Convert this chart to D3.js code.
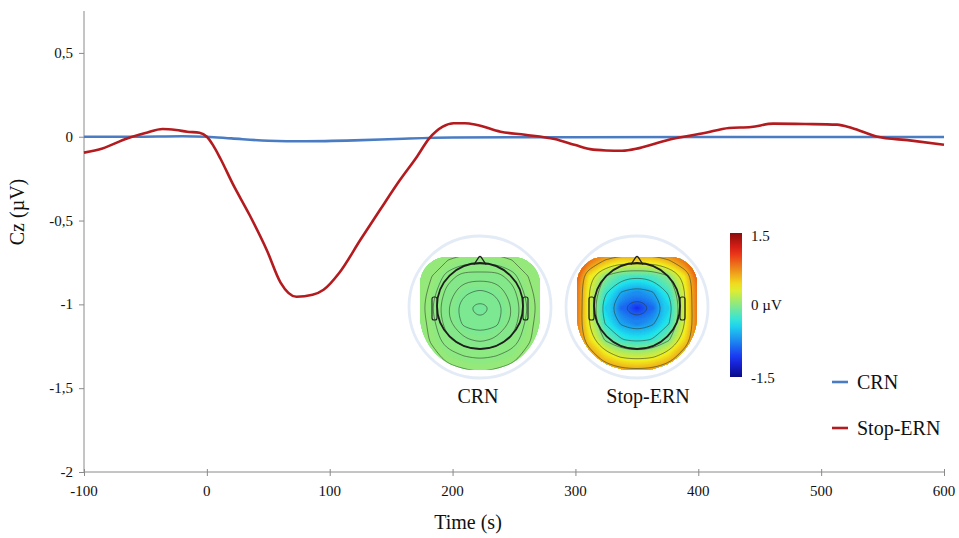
<!DOCTYPE html>
<html>
<head>
<meta charset="utf-8">
<script src="https://cdn.jsdelivr.net/npm/d3@7"></script>
<style>
  html, body { margin: 0; padding: 0; background: #fff; }
  svg { display: block; }
  svg text { font-family: "Liberation Serif", "Times New Roman", serif; fill: #111; }
</style>
</head>
<body>
<svg id="chart" width="959" height="538"></svg>
<script>
// ---------------- DATA ----------------
const crnTime = [-100, -60, -20, 0, 20, 50, 80, 120, 160, 200, 250, 300, 400, 500, 600];
const crnValues = [0.0, 0.0, 0.003, 0.0, -0.01, -0.024, -0.027, -0.022, -0.012, -0.005, -0.003, -0.003, -0.002, -0.002, -0.002];

const ernTime = [-100, -85, -65, -50, -36, -25, -16, -6, 0, 5, 11, 21, 35, 49, 60, 73, 86, 95, 108, 125, 141, 157, 171, 181, 192, 201, 210, 219, 239, 259, 283, 300, 312, 325, 338, 352, 376, 405, 425, 443, 461, 487, 513, 525, 545, 572, 600];
const ernValues = [-0.095, -0.07, -0.01, 0.022, 0.046, 0.04, 0.03, 0.024, 0.0, -0.05, -0.13, -0.28, -0.47, -0.68, -0.87, -0.955, -0.943, -0.913, -0.81, -0.615, -0.436, -0.26, -0.119, -0.01, 0.06, 0.08, 0.08, 0.072, 0.03, 0.012, -0.014, -0.05, -0.074, -0.082, -0.084, -0.068, -0.018, 0.022, 0.052, 0.058, 0.078, 0.076, 0.072, 0.052, 0.002, -0.022, -0.048];

const xTicks = [-100, 0, 100, 200, 300, 400, 500, 600];
const xTickLabels = ["-100", "0", "100", "200", "300", "400", "500", "600"];
const yTicks = [0.5, 0, -0.5, -1, -1.5, -2];
const yTickLabels = ["0,5", "0", "-0,5", "-1", "-1,5", "-2"];

const seriesNames = ["CRN", "Stop-ERN"];
const seriesColors = ["#4a7cc4", "#b31b1f"];

// Topographic maps: 9x9 grids of scalp values (µV), rows front -> back
const crnGrid = [
  [0.07, 0.07, 0.06, 0.06, 0.06, 0.06, 0.06, 0.07, 0.07],
  [0.07, 0.06, 0.04, 0.03, 0.03, 0.03, 0.04, 0.06, 0.07],
  [0.06, 0.04, 0.01, -0.01, -0.01, -0.01, 0.01, 0.04, 0.06],
  [0.06, 0.03, -0.01, -0.035, -0.045, -0.035, -0.01, 0.03, 0.06],
  [0.06, 0.02, -0.02, -0.055, -0.07, -0.055, -0.02, 0.02, 0.06],
  [0.06, 0.03, -0.015, -0.045, -0.055, -0.045, -0.015, 0.03, 0.06],
  [0.06, 0.035, 0.005, -0.015, -0.025, -0.015, 0.005, 0.035, 0.06],
  [0.065, 0.05, 0.03, 0.02, 0.015, 0.02, 0.03, 0.05, 0.065],
  [0.07, 0.06, 0.05, 0.045, 0.04, 0.045, 0.05, 0.06, 0.07]
];
const ernGrid = [
  [1.1, 1.05, 1.0, 1.0, 1.0, 1.0, 1.0, 1.05, 1.1],
  [1.05, 0.85, 0.6, 0.45, 0.5, 0.45, 0.6, 0.85, 1.05],
  [1.0, 0.4, 0.0, -0.2, -0.25, -0.2, 0.0, 0.4, 1.0],
  [1.0, 0.3, -0.25, -0.6, -0.75, -0.6, -0.25, 0.3, 1.0],
  [1.0, 0.3, -0.45, -0.88, -1.12, -0.88, -0.45, 0.3, 1.0],
  [0.95, 0.3, -0.3, -0.62, -0.78, -0.62, -0.3, 0.3, 0.95],
  [0.95, 0.45, -0.02, -0.28, -0.35, -0.28, -0.02, 0.45, 0.95],
  [0.95, 0.75, 0.45, 0.25, 0.2, 0.25, 0.45, 0.75, 0.95],
  [1.0, 0.9, 0.8, 0.72, 0.7, 0.72, 0.8, 0.9, 1.0]
];
const mapLabels = ["CRN", "Stop-ERN"];
const crnLines = [-0.06, -0.04, -0.02, 0.0, 0.02, 0.04];
const ernLines = [-0.9, -0.6, -0.3, 0.0, 0.3, 0.6];
const colorbarTicks = [1.5, 0, -1.5];
const colorbarLabels = ["1.5", "0 \u00b5V", "-1.5"];

// ---------------- CHART ----------------
const svg = d3.select("#chart");
const M = { left: 84, right: 944, top: 11, bottom: 472 };

const x = d3.scaleLinear().domain([-100, 600]).range([M.left, M.right]);
const y = d3.scaleLinear().domain([-2, 0.75]).range([M.bottom, M.top]);

const axisColor = "#8a8a8a";

// Y axis (ticks via d3 axis, labels as plain text)
const gy = svg.append("g").attr("transform", `translate(${M.left},0)`)
  .call(d3.axisLeft(y).tickValues(yTicks).tickSize(5).tickFormat(""));
gy.select(".domain").attr("stroke", axisColor).attr("d", `M0,${M.top}V${M.bottom}`);
gy.selectAll(".tick line").attr("stroke", axisColor);
svg.append("g").selectAll("text").data(yTicks).join("text")
  .attr("x", M.left - 11).attr("y", d => y(d) + 5)
  .attr("text-anchor", "end").attr("font-size", 15)
  .text((d, i) => yTickLabels[i]);

// X axis
const gx = svg.append("g").attr("transform", `translate(0,${M.bottom})`)
  .call(d3.axisBottom(x).tickValues(xTicks).tickSize(4).tickFormat(""));
gx.select(".domain").attr("stroke", axisColor).attr("d", `M${M.left},0H${M.right}`);
gx.selectAll(".tick line").attr("stroke", axisColor).attr("y1", -3).attr("y2", 4);
svg.append("g").selectAll("text").data(xTicks).join("text")
  .attr("x", d => x(d)).attr("y", M.bottom + 24)
  .attr("text-anchor", "middle").attr("font-size", 15)
  .text((d, i) => xTickLabels[i]);

// Axis titles
svg.append("text").attr("x", 468).attr("y", 529).attr("text-anchor", "middle")
  .attr("font-size", 20).text("Time (s)");
svg.append("text").attr("transform", "translate(24,212) rotate(-90)").attr("text-anchor", "middle")
  .attr("font-size", 20).text("Cz (\u00b5V)");

// Lines
const line = d3.line().x(d => x(d[0])).y(d => y(d[1])).curve(d3.curveMonotoneX);
const crnData = crnTime.map((t, i) => [t, crnValues[i]]);
const ernData = ernTime.map((t, i) => [t, ernValues[i]]);
svg.append("path").datum(crnData).attr("d", line).attr("fill", "none")
  .attr("stroke", seriesColors[0]).attr("stroke-width", 2.6);
svg.append("path").datum(ernData).attr("d", line).attr("fill", "none")
  .attr("stroke", seriesColors[1]).attr("stroke-width", 2.6);

// Legend
const legendY = [382, 428];
seriesNames.forEach((name, i) => {
  svg.append("line").attr("x1", 832).attr("x2", 848).attr("y1", legendY[i]).attr("y2", legendY[i])
    .attr("stroke", seriesColors[i]).attr("stroke-width", 2.6);
  svg.append("text").attr("x", 857).attr("y", legendY[i] + 7).attr("font-size", 20).text(name);
});

// ---------------- TOPOMAPS ----------------
const jetStops = ["#0a0a86", "#1a2cf2", "#1fe3ee", "#f2ee1e", "#ea2418", "#8a0c0c"];
const jet = d3.scaleLinear()
  .domain([-1.5, -1.125, -0.375, 0.375, 1.125, 1.5])
  .range(jetStops).interpolate(d3.interpolateRgb).clamp(true);

const defs = svg.append("defs");
const mapCenters = [480, 637];
const grids = [crnGrid, ernGrid];
const lineSets = [crnLines, ernLines];
const cy = 308;

const ringLine = d3.line().curve(d3.curveBasisClosed);

function ringsPath(geom, sx, sy) {
  let p = "";
  geom.coordinates.forEach(poly => {
    poly.forEach(ring => {
      const pts = ring.slice(0, -1).map(c => [sx(c[0]), sy(c[1])]);
      if (pts.length > 2) p += ringLine(pts);
    });
  });
  return p;
}

// scalp region outline (rounded box: moderate top radius, large bottom radius)
function scalpShape(cx) {
  const l = cx - 60, r = cx + 60, t = 257, b = 370, rt = 27, rb = 55;
  const p = d3.path();
  p.moveTo(l + rt, t);
  p.lineTo(r - rt, t);
  p.arcTo(r, t, r, t + rt, rt);
  p.lineTo(r, b - rb);
  p.arcTo(r, b, r - rb, b, rb);
  p.lineTo(l + rb, b);
  p.arcTo(l, b, l, b - rb, rb);
  p.lineTo(l, t + rt);
  p.arcTo(l, t, l + rt, t, rt);
  p.closePath();
  return p.toString();
}

grids.forEach((grid, k) => {
  const cx = mapCenters[k];
  const n = grid.length;
  const values = grid.flat();
  const sx = d3.scaleLinear().domain([0, n]).range([cx - 72, cx + 72]);
  const sy = d3.scaleLinear().domain([0, n]).range([cy - 72, cy + 72]);

  // pale outer ring
  svg.append("circle").attr("cx", cx).attr("cy", 307).attr("r", 71)
    .attr("fill", "none").attr("stroke", "#e3ebf6").attr("stroke-width", 2.8);

  const cp = "clipS" + k;
  defs.append("clipPath").attr("id", cp).append("path").attr("d", scalpShape(cx));

  const g = svg.append("g").attr("clip-path", `url(#${cp})`);

  const minV = d3.min(values);
  const fillThresholds = d3.range(-1.5, 1.5, 0.03).filter(t => t > minV);
  g.append("rect").attr("x", cx - 72).attr("y", cy - 72).attr("width", 144).attr("height", 144)
    .attr("fill", jet(minV));
  const contours = d3.contours().size([n, n]).thresholds(fillThresholds)(values);
  g.selectAll("path.band").data(contours).join("path")
    .attr("class", "band")
    .attr("d", d => ringsPath(d, sx, sy))
    .attr("fill", d => jet(d.value + 0.015))
    .attr("fill-rule", "evenodd")
    .attr("stroke", d => jet(d.value + 0.015)).attr("stroke-width", 0.6);

  const lineContours = d3.contours().size([n, n]).thresholds(lineSets[k])(values);
  g.selectAll("path.iso").data(lineContours).join("path")
    .attr("class", "iso")
    .attr("d", d => ringsPath(d, sx, sy))
    .attr("fill", "none").attr("fill-rule", "evenodd")
    .attr("stroke", "#2b3a2b").attr("stroke-opacity", 0.7).attr("stroke-width", 0.8);

  // head outline
  const headR = 43, headY = 306;
  svg.append("path")
    .attr("d", `M${cx - 6},${headY - headR + 1.5} L${cx - 1},${headY - headR - 6} Q${cx},${headY - headR - 7} ${cx + 1},${headY - headR - 6} L${cx + 6},${headY - headR + 1.5}`)
    .attr("fill", "none").attr("stroke", "#1e1e1e").attr("stroke-width", 1.3);
  [-1, 1].forEach(s => {
    svg.append("rect").attr("x", s < 0 ? cx - headR - 5 : cx + headR)
      .attr("y", 297).attr("width", 5).attr("height", 23).attr("rx", 2)
      .attr("fill", "none").attr("stroke", "#1e1e1e").attr("stroke-width", 1.1);
  });
  svg.append("circle").attr("cx", cx).attr("cy", headY).attr("r", headR)
    .attr("fill", "none").attr("stroke", "#1e1e1e").attr("stroke-width", 1.8);

  svg.append("text").attr("x", k === 0 ? 478 : 648).attr("y", 403).attr("text-anchor", "middle")
    .attr("font-size", 20).text(mapLabels[k]);
});

// Colorbar
const cbTop = 233, cbBottom = 377, cbX = 730, cbW = 12;
const cbScale = d3.scaleLinear().domain([1.5, -1.5]).range([cbTop, cbBottom]);
const grad = defs.append("linearGradient").attr("id", "cbGrad")
  .attr("x1", 0).attr("y1", 0).attr("x2", 0).attr("y2", 1);
d3.range(0, 1.0001, 0.05).forEach(f => {
  grad.append("stop").attr("offset", f).attr("stop-color", jet(1.5 - 3 * f));
});
svg.append("rect").attr("x", cbX).attr("y", cbTop).attr("width", cbW).attr("height", cbBottom - cbTop)
  .attr("fill", "url(#cbGrad)");
colorbarTicks.forEach((v, i) => {
  svg.append("text").attr("x", 751).attr("y", cbScale(v) + (i === 0 ? 8 : i === 2 ? 6 : 5))
    .attr("font-size", 15).text(colorbarLabels[i]);
});
</script>
</body>
</html>
